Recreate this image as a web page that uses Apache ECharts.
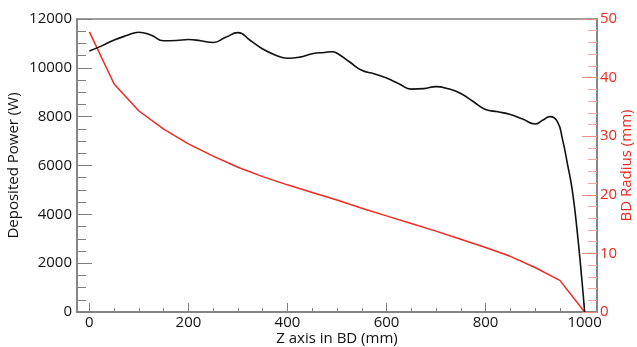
<!DOCTYPE html>
<html>
<head>
<meta charset="utf-8">
<script src="https://cdn.jsdelivr.net/npm/echarts@6/dist/echarts.min.js"></script>
<style>html,body{margin:0;padding:0;background:#fff}#c{width:637px;height:347px}</style>
</head>
<body>
<div id="c"></div>
<script>
// Deposited power (black curve)
const powerZ = [0, 25, 50, 75, 100, 125, 150, 175, 200, 225, 250, 275, 300, 325, 350, 375, 400, 425, 450, 475, 490, 500, 525, 550, 575, 600, 625, 650, 675, 700, 725, 750, 775, 800, 825, 850, 875, 900, 915, 930, 945, 955, 965, 975, 985, 995, 1000];
const powerW = [10690, 10900, 11140, 11320, 11460, 11330, 11110, 11120, 11160, 11110, 11040, 11250, 11440, 11120, 10770, 10530, 10390, 10440, 10580, 10630, 10660, 10600, 10250, 9900, 9760, 9580, 9350, 9130, 9150, 9230, 9140, 8950, 8620, 8290, 8200, 8090, 7900, 7700, 7850, 8000, 7800, 7100, 6100, 5000, 3300, 1200, 0];
// BD radius (red polyline)
const radiusZ = [0, 50, 100, 150, 200, 250, 300, 350, 400, 450, 500, 550, 600, 650, 700, 750, 800, 850, 900, 950, 1000];
const radiusMM = [47.8, 38.9, 34.3, 31.2, 28.7, 26.6, 24.7, 23.1, 21.7, 20.4, 19.1, 17.7, 16.4, 15.1, 13.8, 12.4, 11.0, 9.5, 7.6, 5.4, 0];
// tick labels
const xMajorTicks = [0, 200, 400, 600, 800, 1000];
const xMinorTicks = [50, 100, 150, 250, 300, 350, 450, 500, 550, 650, 700, 750, 850, 900, 950];

const font = 'Open Sans';
const gray = '#7f7f7f';
const red = '#ee2a22';
const plain = v => String(v);
const chart = echarts.init(document.getElementById('c'));
chart.setOption({
  animation: false,
  grid: {left: 77, top: 19, right: 40, bottom: 35, show: true, borderColor: gray, borderWidth: 1.5, containLabel: false, outerBoundsMode: 'none'},
  xAxis: [{
    type: 'value', min: -25, max: 1025, position: 'bottom',
    name: 'Z axis in BD (mm)', nameLocation: 'middle', nameGap: 19, nameMoveOverlap: false,
    nameTextStyle: {fontFamily: font, fontSize: 15, color: '#111'},
    axisLine: {show: true, onZero: false, lineStyle: {color: gray, width: 1.5}},
    axisTick: {show: true, inside: false, length: -9, customValues: xMajorTicks, lineStyle: {color: gray}},
    axisLabel: {show: true, customValues: xMajorTicks, formatter: plain, fontFamily: font, fontSize: 15, color: '#111', margin: 3},
    splitLine: {show: false}
  }, {
    type: 'value', min: -25, max: 1025, position: 'bottom',
    axisLine: {show: false, onZero: false},
    axisTick: {show: true, inside: false, length: -4, customValues: xMinorTicks, lineStyle: {color: gray}},
    axisLabel: {show: false},
    splitLine: {show: false}
  }],
  yAxis: [{
    type: 'value', min: 0, max: 12000, interval: 2000, position: 'left',
    name: 'Deposited Power (W)', nameLocation: 'middle', nameGap: 56, nameMoveOverlap: false,
    nameTextStyle: {fontFamily: font, fontSize: 15, color: '#111'},
    axisLine: {show: true, onZero: false, lineStyle: {color: gray, width: 1.5}},
    axisTick: {show: true, inside: false, length: -15, lineStyle: {color: gray}},
    minorTick: {show: true, splitNumber: 4, length: -9, lineStyle: {color: gray}},
    axisLabel: {formatter: plain, fontFamily: font, fontSize: 15, color: '#111', margin: 5},
    splitLine: {show: false}
  }, {
    type: 'value', min: 0, max: 50, interval: 10, position: 'right',
    name: 'BD Radius (mm)', nameLocation: 'middle', nameGap: 22, nameMoveOverlap: false,
    nameTextStyle: {fontFamily: font, fontSize: 15, color: red},
    axisLine: {show: true, onZero: false, lineStyle: {color: gray, width: 1.5}},
    axisTick: {show: true, inside: false, length: -15, lineStyle: {color: '#f4907f'}},
    minorTick: {show: true, splitNumber: 5, length: -9, lineStyle: {color: '#f6a898'}},
    axisLabel: {formatter: plain, fontFamily: font, fontSize: 15, color: red, margin: 3},
    splitLine: {show: false}
  }],
  series: [{
    type: 'line', xAxisIndex: 0, yAxisIndex: 0,
    data: powerZ.map((z, i) => [z, powerW[i]]),
    smooth: 0.5, showSymbol: false,
    lineStyle: {color: '#111', width: 1.6}, z: 3
  }, {
    type: 'line', xAxisIndex: 0, yAxisIndex: 1,
    data: radiusZ.map((z, i) => [z, radiusMM[i]]),
    smooth: false, showSymbol: false,
    lineStyle: {color: red, width: 1.5}, z: 2
  }]
});
</script>
</body>
</html>
